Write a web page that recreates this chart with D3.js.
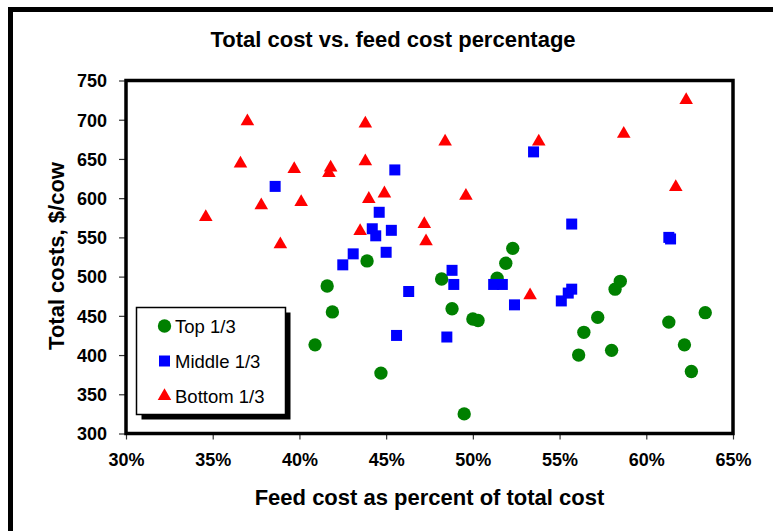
<!DOCTYPE html>
<html>
<head>
<meta charset="utf-8">
<script src="https://cdn.jsdelivr.net/npm/d3@7"></script>
<style>
  html, body { margin: 0; padding: 0; background: #fff; }
  svg { display: block; font-family: "Liberation Sans", Arial, sans-serif; }
</style>
</head>
<body>
<svg id="chart" width="773" height="531"></svg>
<script>
// Feed cost share (% of total cost) and total cost ($/cow), by herd third
const topPct = [41.6, 41.9, 40.9, 43.9, 44.7, 48.2, 48.8, 50.0, 50.3, 49.5, 51.4, 51.9, 52.3, 58.5, 58.2, 57.2, 56.4, 56.1, 58.0, 61.3, 63.4, 62.2, 62.6];
const topCost = [488, 455, 413, 520, 377, 497, 459, 446, 444, 325, 498, 517, 536, 494, 484, 448, 429, 400, 406, 442, 454, 413, 379];

const midPct = [38.6, 45.5, 44.6, 44.2, 44.4, 45.3, 43.1, 45.0, 42.5, 48.8, 48.9, 51.2, 51.7, 52.4, 46.3, 45.6, 48.5, 53.5, 55.7, 61.3, 61.4, 55.1, 55.5, 55.7];
const midCost = [615, 636, 582, 561, 552, 559, 529, 531, 515, 508, 490, 490, 490, 464, 481, 425, 423, 659, 567, 550, 548, 469, 479, 484];

const botPct = [37.0, 36.6, 39.7, 37.8, 40.1, 34.6, 38.9, 43.8, 48.4, 43.8, 41.8, 41.7, 44.9, 44.0, 49.6, 47.2, 43.5, 47.3, 62.3, 58.7, 53.8, 61.7, 53.3];
const botCost = [698, 644, 637, 591, 595, 576, 541, 695, 672, 647, 639, 632, 606, 599, 603, 567, 558, 545, 725, 682, 672, 614, 476];

const seriesNames = ["Top 1/3", "Middle 1/3", "Bottom 1/3"];
const seriesColors = ["#008000", "#0000ff", "#ff0000"];

const xTicks = [30, 35, 40, 45, 50, 55, 60, 65];
const yTicks = [300, 350, 400, 450, 500, 550, 600, 650, 700, 750];

const titleText = "Total cost vs. feed cost percentage";
const xTitle = "Feed cost as percent of total cost";
const yTitle = "Total costs, $/cow";

const svg = d3.select("#chart");
const W = 773, H = 531;
const plot = { left: 126, right: 733, top: 80.5, bottom: 433.5 };

// Outer chart border (runs off the right and bottom edges)
svg.append("rect")
  .attr("x", 10.5).attr("y", 9.5)
  .attr("width", W + 20).attr("height", H + 20)
  .attr("fill", "#fff").attr("stroke", "#000").attr("stroke-width", 5);

const x = d3.scaleLinear().domain([30, 65]).range([plot.left, plot.right]);
const y = d3.scaleLinear().domain([300, 750]).range([plot.bottom, plot.top]);

// Axes
const xAxis = svg.append("g")
  .attr("transform", `translate(0,${plot.bottom})`)
  .call(d3.axisBottom(x).tickValues(xTicks).tickFormat(d => d + "%").tickSize(6).tickPadding(14));
const yAxis = svg.append("g")
  .attr("transform", `translate(${plot.left},0)`)
  .call(d3.axisLeft(y).tickValues(yTicks).tickSize(7).tickPadding(12));

[xAxis, yAxis].forEach(g => {
  g.select(".domain").remove();
  g.selectAll(".tick line").attr("stroke", "#333").attr("stroke-width", 1.2);
  g.selectAll(".tick text")
    .attr("fill", "#000")
    .style("font-family", "'Liberation Sans', Arial, sans-serif")
    .style("font-weight", "bold")
    .style("font-size", "18px");
});
yAxis.selectAll(".tick text").attr("dy", "0.35em");

// Plot frame
svg.append("rect")
  .attr("x", plot.left).attr("y", plot.top)
  .attr("width", plot.right - plot.left).attr("height", plot.bottom - plot.top)
  .attr("fill", "none").attr("stroke", "#000").attr("stroke-width", 3.5);

// Markers
const shapes = [
  d3.symbol().type(d3.symbolCircle).size(140),
  d3.symbol().type(d3.symbolSquare).size(121),
  d3.symbol().type(d3.symbolTriangle).size(80)
];
const series = [
  topPct.map((p, i) => [p, topCost[i]]),
  midPct.map((p, i) => [p, midCost[i]]),
  botPct.map((p, i) => [p, botCost[i]])
];
series.forEach((pts, s) => {
  svg.append("g").selectAll("path")
    .data(pts)
    .join("path")
    .attr("d", shapes[s]())
    .attr("transform", d => `translate(${x(d[0])},${y(d[1])})`)
    .attr("fill", seriesColors[s]);
});

// Titles
svg.append("text")
  .attr("x", 393).attr("y", 47)
  .attr("text-anchor", "middle")
  .style("font-weight", "bold").style("font-size", "22px")
  .text(titleText);

svg.append("text")
  .attr("x", (plot.left + plot.right) / 2).attr("y", 505)
  .attr("text-anchor", "middle")
  .style("font-weight", "bold").style("font-size", "22px")
  .text(xTitle);

svg.append("text")
  .attr("transform", `translate(64,${(plot.top + plot.bottom) / 2 - 1}) rotate(-90)`)
  .attr("text-anchor", "middle")
  .style("font-weight", "bold").style("font-size", "22px")
  .text(yTitle);

// Legend with drop shadow
const lg = { x: 136.5, y: 307.5, w: 149, h: 107 };
svg.append("rect")
  .attr("x", lg.x + 5).attr("y", lg.y + 5).attr("width", lg.w).attr("height", lg.h)
  .attr("fill", "#000");
svg.append("rect")
  .attr("x", lg.x).attr("y", lg.y).attr("width", lg.w).attr("height", lg.h)
  .attr("fill", "#fff").attr("stroke", "#000").attr("stroke-width", 1.5);

const legendRows = [326, 361, 396];
seriesNames.forEach((name, s) => {
  svg.append("path")
    .attr("d", shapes[s]())
    .attr("transform", `translate(164.5,${legendRows[s]})`)
    .attr("fill", seriesColors[s]);
  svg.append("text")
    .attr("x", 175).attr("y", legendRows[s])
    .attr("dy", "0.36em")
    .style("font-size", "18.5px")
    .text(name);
});
</script>
</body>
</html>
